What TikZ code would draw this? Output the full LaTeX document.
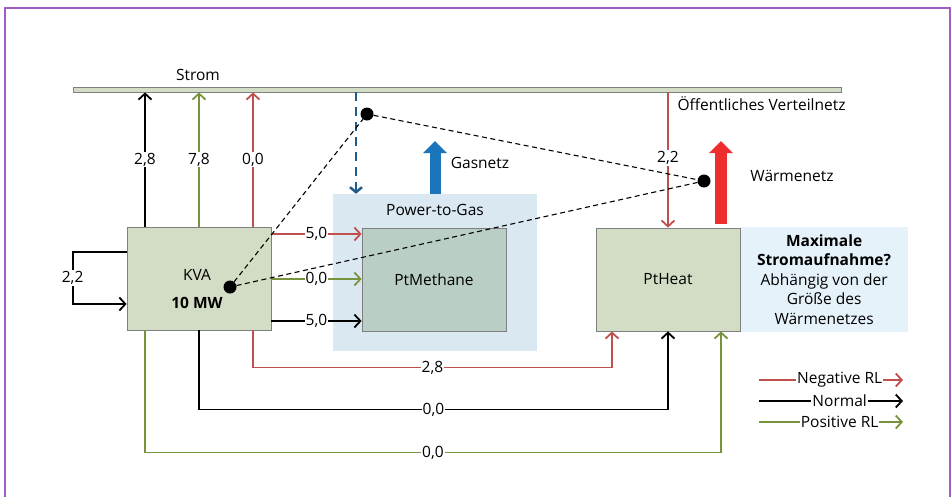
\documentclass[tikz,border=0pt]{standalone}
\usepackage{fontspec}
\setmainfont{Open Sans}
\usetikzlibrary{arrows.meta}

\definecolor{negred}{HTML}{C0504D}
\definecolor{posgreen}{HTML}{77933C}
\definecolor{boxfill}{HTML}{D3DCC4}
\definecolor{boxline}{HTML}{7F7F7F}
\definecolor{methfill}{HTML}{B9CEC4}
\definecolor{ptgfill}{HTML}{DAE8F1}
\definecolor{infofill}{HTML}{E6F2FA}
\definecolor{gasblue}{HTML}{1B75BB}
\definecolor{dashblue}{HTML}{1F5C8E}
\definecolor{heatred}{HTML}{ED2D2E}
\definecolor{framecol}{HTML}{A25DC4}

\tikzset{
  flow/.style={line width=1.8pt, -{Straight Barb[length=6pt,width=13pt,line width=1.8pt]}},
  negflow/.style={flow, draw=negred},
  normflow/.style={flow, draw=black},
  posflow/.style={flow, draw=posgreen},
  lab/.style={fill=white, inner sep=1pt},
  unit/.style={draw=boxline, line width=0.8pt, fill=boxfill, minimum width=144pt, minimum height=103pt, align=center},
  jdot/.style={circle, fill=black, inner sep=0pt, minimum size=13pt},
  link/.style={draw=black, line width=1.1pt, dash pattern=on 5pt off 3.5pt},
}

\begin{document}
\begin{tikzpicture}[x=1pt, y=-1pt, font=\fontsize{15.5}{19.5}\selectfont]
\useasboundingbox (0,0) rectangle (952,496);
\draw[framecol, line width=1.5pt] (5,500) -- (5,8) -- (950,8) -- (950,500);

% busbar
\node (bar) [draw=boxline, fill=boxfill, line width=0.8pt, minimum width=768pt, minimum height=5pt, inner sep=0pt] at (457,89.5) {};
\node (strom) at (198,75) {Strom};
\node (netz) [anchor=west] at (674,104) {Öffentliches Verteilnetz};

% regions and units
\node (ptg) [fill=ptgfill, minimum width=204pt, minimum height=157pt] at (435,272.5) {};
\node (ptglab) at (435,210) {Power-to-Gas};
\node (kva) [unit] at (199,278.5) {};
\node (kvaname) at (197,275) {KVA};
\node (kvapower) at (197,303) {\textbf{10 MW}};
\node (ptmethane) [unit, fill=methfill] at (434,279.5) {PtMethane};
\node (ptheat) [unit] at (668,279.5) {PtHeat};
\node (info) [fill=infofill, minimum width=167pt, minimum height=105pt, align=center, anchor=west] at (ptheat.east) {\textbf{Maximale}\\ \textbf{Stromaufnahme?}\\ Abhängig von der\\ Größe des\\ Wärmenetzes};

% KVA to grid
\draw[normflow] (kva.north -| 145,0) -- node[lab]{2,8} (bar.south -| 145,0);
\draw[posflow] (kva.north -| 199,0) -- node[lab]{7,8} (bar.south -| 199,0);
\draw[negflow] (kva.north -| 253,0) -- node[lab]{0,0} (bar.south -| 253,0);
\draw[negflow] (bar.south -| 668,0) -- node[lab, pos=0.485]{2,2} (ptheat.north -| 668,0);

% own consumption
\draw[normflow] (kva.west |- 0,252) -- ++(-54,0) |- node[lab, pos=0.25]{2,2} (kva.west |- 0,304);

% KVA to PtMethane
\draw[negflow] (kva.east |- 0,234) -- node[lab]{5,0} (ptmethane.west |- 0,234);
\draw[posflow] (kva.east |- 0,279) -- node[lab]{0,0} (ptmethane.west |- 0,279);
\draw[normflow] (kva.east |- 0,321) -- node[lab]{5,0} (ptmethane.west |- 0,321);

% KVA to PtHeat
\draw[negflow] (kva.south -| 253,0) -- ++(0,37) -| node[lab, pos=0.25]{2,8} (ptheat.south -| 612,0);
\draw[normflow] (kva.south -| 199,0) -- ++(0,79) -| node[lab, pos=0.25]{0,0} (ptheat.south -| 668,0);
\draw[posflow] (kva.south -| 145,0) -- ++(0,122) -| node[lab, pos=0.25]{0,0} (ptheat.south -| 721,0);

% gas and heat
\draw[dashblue, line width=2.5pt, dash pattern=on 9pt off 6pt, -{Straight Barb[length=5pt,width=12pt,line width=2.5pt]}] (bar.south -| 356,0) -- (ptg.north -| 356,0);
\coordinate (gastop) at (435,141);
\draw[gasblue, line width=11pt, -{Triangle[length=12pt,width=23pt]}] (ptg.north -| 435,0) -- (gastop);
\node (gasnetz) at (480,163) {Gasnetz};
\coordinate (heatbot) at (721,224);
\coordinate (heattop) at (721,141);
\draw[heatred, line width=12pt, -{Triangle[length=12pt,width=23pt]}] (heatbot) -- (heattop);
\node (waerme) at (792,176) {Wärmenetz};

% flexibility links
\node (dotkva) [jdot] at (230,287) {};
\node (dotstrom) [jdot] at (367,114) {};
\node (dotwaerme) [jdot] at (704,181) {};
\draw[link] (dotkva) -- (dotstrom);
\draw[link] (dotstrom) -- (dotwaerme);
\draw[link] (dotkva) -- (dotwaerme);

% legend
\coordinate (la1) at (759,380); \coordinate (la2) at (903,380);
\coordinate (lb1) at (759,401); \coordinate (lb2) at (903,401);
\coordinate (lc1) at (759,422); \coordinate (lc2) at (903,422);
\draw[negflow] (la1) -- node[lab, pos=0.56, inner ysep=0pt]{Negative RL} (la2);
\draw[normflow] (lb1) -- node[lab, pos=0.56, inner ysep=0pt]{Normal} (lb2);
\draw[posflow] (lc1) -- node[lab, pos=0.56, inner ysep=0pt]{Positive RL} (lc2);
\end{tikzpicture}
\end{document}
